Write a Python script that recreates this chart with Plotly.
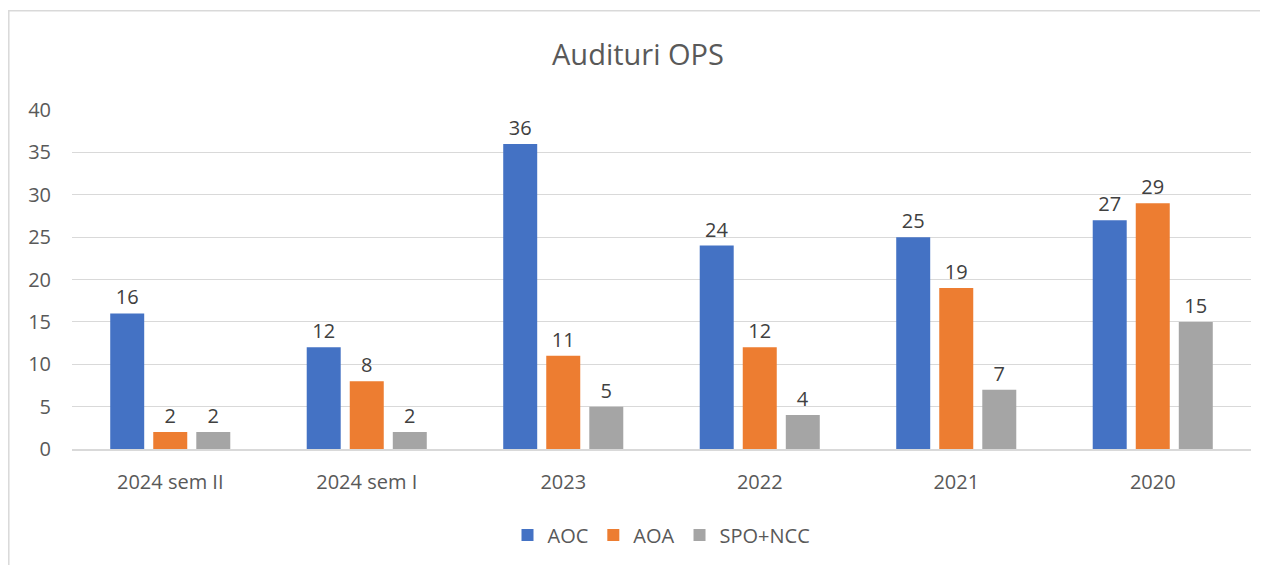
import plotly.graph_objects as go

categories = ["2024 sem II", "2024 sem I", "2023", "2022", "2021", "2020"]
aoc = [16, 12, 36, 24, 25, 27]
aoa = [2, 8, 11, 12, 19, 29]
spo_ncc = [2, 2, 5, 4, 7, 15]

series = [("AOC", aoc, "#4472C4"), ("AOA", aoa, "#ED7D31"), ("SPO+NCC", spo_ncc, "#A5A5A5")]

FONT = "Open Sans"
fig = go.Figure()
for name, vals, color in series:
    fig.add_trace(go.Bar(
        x=categories, y=vals, name=name, marker_color=color,
        marker_line_width=0,
        text=[str(v) for v in vals], textposition="outside",
        textfont=dict(size=20, color="#404040", family=FONT),
        cliponaxis=False,
    ))

# page body has an 8px margin; figure sized so it ends at the window edge
OFF = 8
W, H = 1268 - OFF, 565 - OFF
L, R, T, B = 72 - OFF, 17, 110 - OFF, 115
pw, ph = W - L - R, H - T - B

fig.update_layout(
    width=W, height=H,
    margin=dict(l=L, r=R, t=T, b=B),
    paper_bgcolor="white", plot_bgcolor="white",
    barmode="group", bargap=0.343, bargroupgap=0.21,
    title=dict(text="Audituri OPS", x=0.5, xanchor="center", y=1 - (55 - OFF) / H, yanchor="middle",
               font=dict(size=29, color="#595959", family=FONT)),
    font=dict(family=FONT, color="#595959"),
    legend=dict(orientation="h", x=0.5, xanchor="center", y=(450 - 535) / ph, yanchor="middle",
                font=dict(size=20, color="#595959", family=FONT), traceorder="normal"),
    showlegend=True,
    xaxis=dict(showgrid=False, showline=True, linecolor="#D9D9D9", linewidth=1.5,
               tickfont=dict(size=20, color="#595959"), ticklabelstandoff=14),
    yaxis=dict(range=[0, 40], dtick=5, showgrid=True, gridcolor="#D9D9D9", gridwidth=1,
               zeroline=False, showline=False,
               tickfont=dict(size=20, color="#595959"), ticklabelstandoff=20),
    shapes=[dict(type="rect", xref="paper", yref="paper",
                 x0=(0.8 - L) / pw, x1=1.2, y0=-0.6, y1=(H - B - 2.5) / ph,
                 line=dict(color="#D9D9D9", width=1.5), fillcolor="rgba(0,0,0,0)", layer="below")],
)

fig.write_html("out.html")
